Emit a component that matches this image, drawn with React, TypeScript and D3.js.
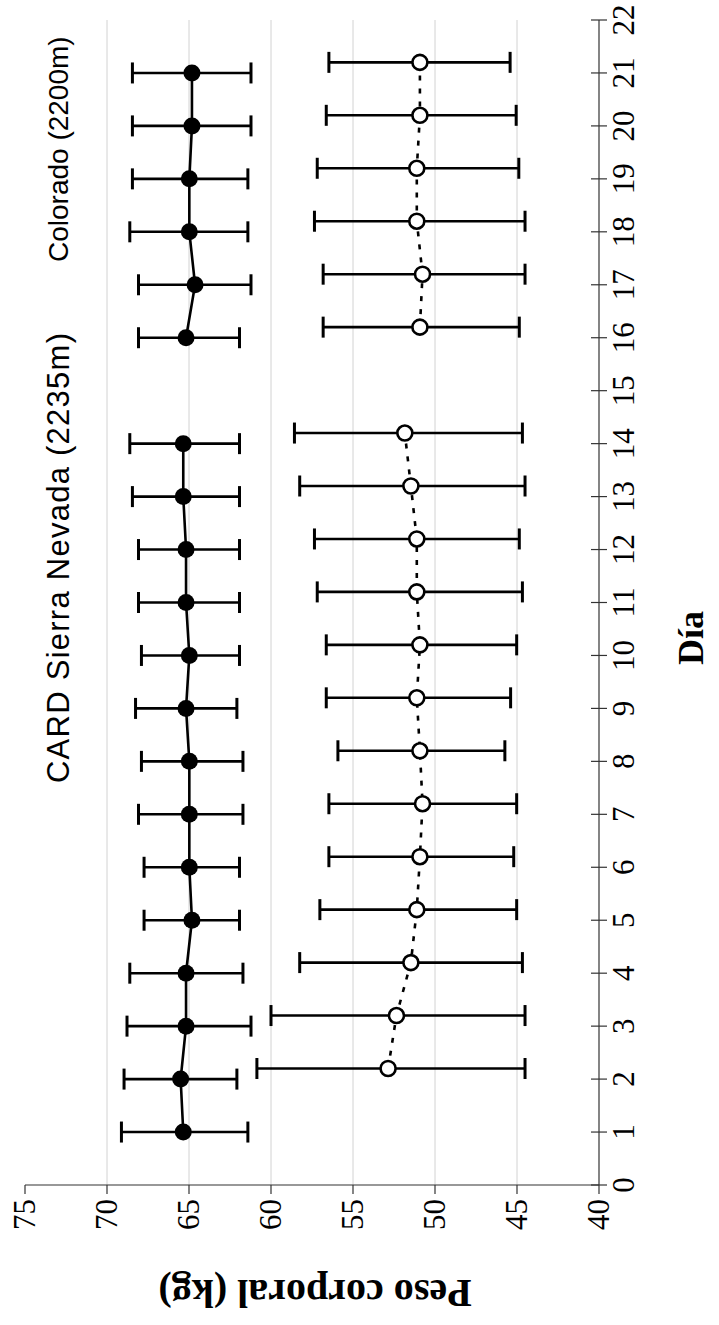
import * as d3 from "d3";

// days measured (no day 15)
const days = [1, 2, 3, 4, 5, 6, 7, 8, 9, 10, 11, 12, 13, 14, 16, 17, 18, 19, 20, 21];

// filled markers
const filledMean = [65.35, 65.51, 65.18, 65.18, 64.82, 64.98, 64.98, 64.98, 65.18, 64.98, 65.18, 65.18, 65.35, 65.35, 65.18, 64.63, 64.98, 64.98, 64.82, 64.82];
const filledHigh = [69.12, 68.96, 68.78, 68.61, 67.74, 67.74, 68.08, 67.9, 68.26, 67.9, 68.08, 68.08, 68.45, 68.61, 68.08, 68.08, 68.61, 68.45, 68.45, 68.45];
const filledLow = [61.41, 62.08, 61.22, 61.71, 61.92, 61.92, 61.71, 61.71, 62.08, 61.92, 61.92, 61.92, 61.92, 61.92, 61.92, 61.22, 61.41, 61.41, 61.22, 61.22];

// open markers (start at day 2)
const openDays = [2, 3, 4, 5, 6, 7, 8, 9, 10, 11, 12, 13, 14, 16, 17, 18, 19, 20, 21];
const openMean = [52.86, 52.35, 51.47, 51.11, 50.92, 50.76, 50.92, 51.11, 50.92, 51.11, 51.11, 51.47, 51.84, 50.92, 50.76, 51.11, 51.11, 50.92, 50.92];
const openHigh = [60.86, 60.0, 58.25, 57.02, 56.47, 56.47, 55.92, 56.63, 56.63, 57.18, 57.35, 58.25, 58.57, 56.82, 56.82, 57.35, 57.18, 56.63, 56.47];
const openLow = [44.51, 44.51, 44.67, 45.02, 45.2, 45.02, 45.74, 45.39, 45.02, 44.67, 44.86, 44.51, 44.67, 44.86, 44.51, 44.51, 44.89, 45.05, 45.42];

const dayTicks = d3.range(0, 23);
const valueTicks = [40, 45, 50, 55, 60, 65, 70, 75];
const gridValues = [45, 50, 55, 60, 65, 70];

const OPEN_SHIFT = 0.2; // open series drawn slightly after the filled one
const serif = "'Liberation Serif', 'Times New Roman', serif";
const sans = "'Liberation Sans', Arial, sans-serif";

const App = () => {
  const width = 719;
  const height = 1325;

  // chart is turned a quarter turn: days run bottom -> top, weight runs right -> left
  const yDay = d3.scaleLinear().domain([0, 22]).range([1185, 20]);
  const xVal = d3.scaleLinear().domain([40, 75]).range([599, 25]);

  const filled = days.map((d, i) => ({ day: d, m: filledMean[i], hi: filledHigh[i], lo: filledLow[i] }));
  const open = openDays.map((d, i) => ({ day: d + OPEN_SHIFT, m: openMean[i], hi: openHigh[i], lo: openLow[i] }));

  const line = d3.line<any>()
    .x(d => xVal(d.m))
    .y(d => yDay(d.day));

  const segs = (arr) => [arr.filter(d => d.day < 15), arr.filter(d => d.day > 15)];

  const errorBars = (arr, key) => arr.map((d, i) => {
    const y = yDay(d.day);
    return (
      <g key={key + i}>
        <line x1={xVal(d.lo)} x2={xVal(d.hi)} y1={y} y2={y} stroke="#000" strokeWidth={2.6} />
        <line x1={xVal(d.lo)} x2={xVal(d.lo)} y1={y - 10.5} y2={y + 10.5} stroke="#000" strokeWidth={3} />
        <line x1={xVal(d.hi)} x2={xVal(d.hi)} y1={y - 10.5} y2={y + 10.5} stroke="#000" strokeWidth={3} />
      </g>
    );
  });

  return (
    <svg width={width} height={height} style={{ position: "absolute", left: 0, top: 0, background: "#fff" }}>
      {/* grid */}
      {gridValues.map(v => (
        <line key={"g" + v} x1={xVal(v)} x2={xVal(v)} y1={yDay(22)} y2={yDay(0)} stroke="#d2d2d2" strokeWidth={1} />
      ))}

      {/* weight axis */}
      <line x1={xVal(75)} x2={xVal(40)} y1={yDay(0)} y2={yDay(0)} stroke="#333" strokeWidth={1.2} />
      {valueTicks.map(v => (
        <g key={"vt" + v}>
          <line x1={xVal(v)} x2={xVal(v)} y1={yDay(0)} y2={yDay(0) + 9} stroke="#333" strokeWidth={1.2} />
          <text
            transform={`translate(${xVal(v) + 10},1199) rotate(-90)`}
            textAnchor="end"
            fontFamily={serif}
            fontSize={31}
            fill="#000"
          >{v}</text>
        </g>
      ))}

      {/* day axis */}
      <line x1={xVal(40)} x2={xVal(40)} y1={yDay(22)} y2={yDay(0)} stroke="#333" strokeWidth={1.2} />
      {dayTicks.map(t => (
        <g key={"dt" + t}>
          <line x1={xVal(40) - 8} x2={xVal(40) + 8} y1={yDay(t)} y2={yDay(t)} stroke="#333" strokeWidth={1.2} />
          <text
            transform={`translate(634,${yDay(t)}) rotate(-90)`}
            textAnchor="middle"
            fontFamily={serif}
            fontSize={31}
            fill="#000"
          >{t}</text>
        </g>
      ))}

      {/* series lines */}
      {segs(filled).map((s, i) => (
        <path key={"fl" + i} d={line(s)} fill="none" stroke="#000" strokeWidth={2.6} />
      ))}
      {segs(open).map((s, i) => (
        <path key={"ol" + i} d={line(s)} fill="none" stroke="#000" strokeWidth={2.6} strokeDasharray="5,8" />
      ))}

      {/* error bars */}
      {errorBars(filled, "fe")}
      {errorBars(open, "oe")}

      {/* markers */}
      {filled.map((d, i) => (
        <circle key={"fc" + i} cx={xVal(d.m)} cy={yDay(d.day)} r={8.5} fill="#000" />
      ))}
      {open.map((d, i) => (
        <circle key={"oc" + i} cx={xVal(d.m)} cy={yDay(d.day)} r={7.5} fill="#fff" stroke="#000" strokeWidth={2.6} />
      ))}

      {/* annotations */}
      <text transform="translate(69,783) rotate(-90)" fontFamily={sans} fontSize={31} fill="#000" textLength={450} lengthAdjust="spacing">
        CARD Sierra Nevada (2235m)
      </text>
      <text transform="translate(68,262) rotate(-90)" fontFamily={sans} fontSize={28} fill="#000">
        Colorado (2200m)
      </text>

      {/* axis titles */}
      <text transform="translate(315,1280) rotate(180)" textAnchor="middle" fontFamily={serif} fontWeight="bold" fontSize={40} fill="#000">
        Peso corporal (kg)
      </text>
      <text transform="translate(703,638) rotate(-90)" textAnchor="middle" fontFamily={serif} fontWeight="bold" fontSize={36} fill="#000">
        Día
      </text>
    </svg>
  );
};

export default App;
